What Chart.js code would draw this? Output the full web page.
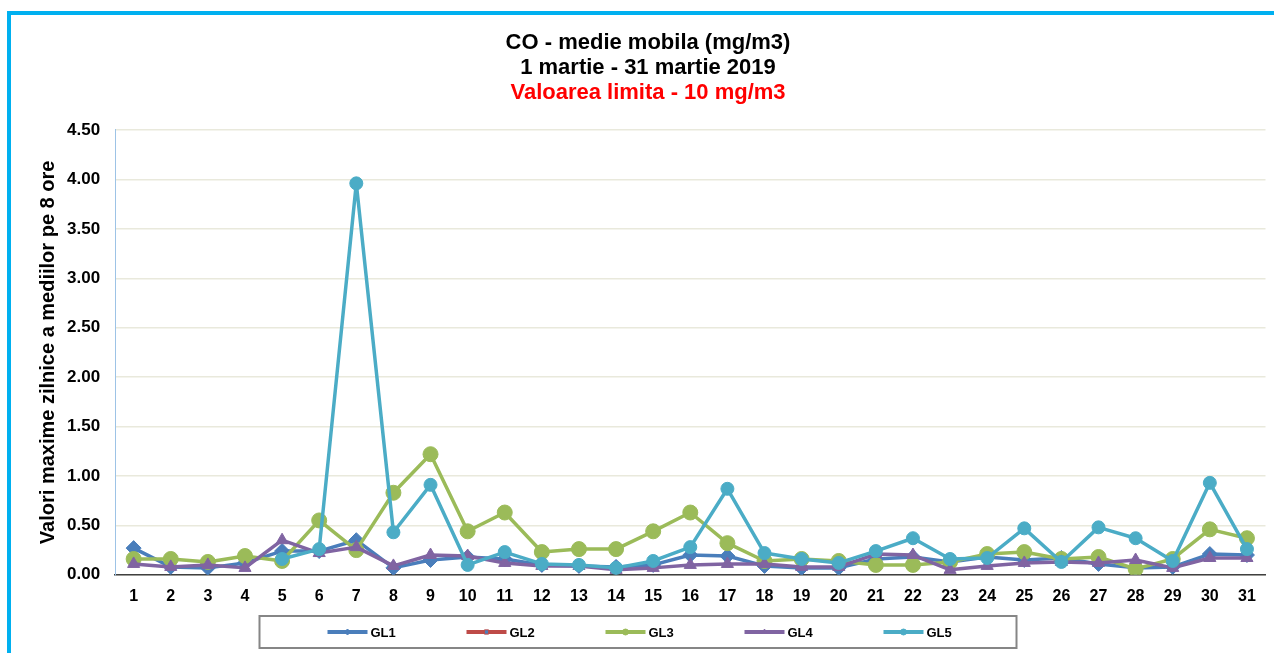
<!DOCTYPE html>
<html>
<head>
<meta charset="utf-8">
<title>CO - medie mobila</title>
<script src="https://cdn.jsdelivr.net/npm/chart.js@4.4.1/dist/chart.umd.min.js"></script>
<style>
  html, body { margin: 0; padding: 0; background: #fff; }
  #wrap { position: relative; width: 1274px; height: 653px; overflow: hidden; }
  #frame { position: absolute; left: 7px; top: 11px; right: -20px; bottom: -20px;
           border-left: 4px solid #00b0f0; border-top: 4px solid #00b0f0; pointer-events: none; }
  canvas { position: absolute; left: 0; top: 0; }
</style>
</head>
<body>
<div id="wrap">
  <canvas id="chart" width="1274" height="653"></canvas>
  <div id="frame"></div>
</div>
<script>
const days = ['1','2','3','4','5','6','7','8','9','10','11','12','13','14','15','16',
              '17','18','19','20','21','22','23','24','25','26','27','28','29','30','31'];

const gl1 = [0.27,0.08,0.07,0.12,0.24,0.24,0.35,0.07,0.15,0.18,0.16,0.10,0.09,0.08,0.10,0.20,
             0.19,0.09,0.07,0.07,0.16,0.18,0.13,0.18,0.15,0.17,0.11,0.07,0.08,0.21,0.20];
const gl2 = [null,null,null,null,null,null,null,null,null,null,null,null,null,null,null,null,
             null,null,null,null,null,null,null,null,null,null,null,null,null,null,null];
const gl3 = [0.16,0.16,0.13,0.19,0.14,0.55,0.25,0.83,1.22,0.44,0.63,0.23,0.26,0.26,0.44,0.63,
             0.32,0.14,0.16,0.14,0.10,0.10,0.13,0.21,0.23,0.16,0.18,0.06,0.16,0.46,0.37];
const gl4 = [0.11,0.08,0.10,0.07,0.35,0.22,0.28,0.09,0.20,0.19,0.12,0.09,0.09,0.05,0.07,0.10,
             0.11,0.11,0.08,0.08,0.21,0.20,0.05,0.09,0.12,0.13,0.12,0.15,0.07,0.17,0.17];
const gl5 = [null,null,null,null,0.16,0.26,3.96,0.43,0.91,0.10,0.23,0.11,0.10,0.07,0.14,0.28,
             0.87,0.22,0.16,0.12,0.24,0.37,0.16,0.17,0.47,0.13,0.48,0.37,0.14,0.93,0.26];

const yTicks = ['0.00','0.50','1.00','1.50','2.00','2.50','3.00','3.50','4.00','4.50'];

const FONT = '"Liberation Sans", Arial, sans-serif';

function serie(label, data, color, style, radius, order) {
    return {
        label: label,
        data: data,
        borderColor: color,
        backgroundColor: color,
        pointBackgroundColor: color,
        pointBorderColor: color,
        pointStyle: style,
        pointRadius: radius,
        pointBorderWidth: 1,
        borderWidth: 3.5,
        borderJoinStyle: 'round',
        tension: 0,
        order: order
    };
}

// legenda din Excel: linie cu marker mic, intr-un chenar gri
const legendBox = {
    id: 'legendBox',
    afterDraw(chart) {
        const ctx = chart.ctx;
        const w = 757, h = 32;
        const x0 = Math.round((chart.width - w) / 2) + 0.5;
        const y0 = chart.height - 37;
        ctx.save();
        ctx.strokeStyle = '#868686';
        ctx.lineWidth = 2;
        ctx.strokeRect(x0, y0, w, h);
        ctx.font = 'bold 13px ' + FONT;
        ctx.textBaseline = 'middle';
        chart.data.datasets.forEach((ds, i) => {
            const x = x0 + 68 + i * 139;
            const y = y0 + h / 2;
            ctx.strokeStyle = ds.borderColor;
            ctx.lineWidth = 4;
            ctx.beginPath();
            ctx.moveTo(x, y);
            ctx.lineTo(x + 40, y);
            ctx.stroke();
            ctx.fillStyle = ds.legendMarker || ds.borderColor;
            ctx.strokeStyle = ds.borderColor;
            ctx.lineWidth = 1;
            Chart.helpers.drawPoint(ctx, { pointStyle: ds.pointStyle, radius: 3, rotation: 0, borderWidth: 1 }, x + 20, y);
            ctx.fillStyle = '#000';
            ctx.fillText(ds.label, x + 43, y + 1);
        });
        ctx.restore();
    }
};

const datasets = [
    serie('GL1', gl1, '#4a7ebb', 'rectRot', 7.5, 5),
    serie('GL2', gl2, '#be4b48', 'rect', 5, 4),
    serie('GL3', gl3, '#9bbb59', 'circle', 7.5, 3),
    serie('GL4', gl4, '#8064a2', 'triangle', 7, 2),
    serie('GL5', gl5, '#4bacc6', 'circle', 6.5, 1)
];
datasets[1].legendMarker = '#4a7ebb';

const config = {
    type: 'line',
    data: { labels: days, datasets: datasets },
    options: {
        responsive: false,
        animation: false,
        layout: { padding: { top: 30, left: 23, right: 1, bottom: 35 } },
        plugins: {
            legend: { display: false },
            tooltip: { enabled: false },
            title: {
                display: true,
                text: ['CO - medie mobila (mg/m3)', '1 martie - 31 martie 2019'],
                color: '#000',
                font: { family: FONT, size: 22, weight: 'bold', lineHeight: 1.136 },
                padding: { top: 0, bottom: 0 }
            },
            subtitle: {
                display: true,
                text: 'Valoarea limita - 10 mg/m3',
                color: '#ff0000',
                font: { family: FONT, size: 22, weight: 'bold', lineHeight: 1.136 },
                padding: { top: 0, bottom: 25 }
            }
        },
        scales: {
            x: {
                offset: true,
                grid: { display: false, drawTicks: false },
                border: { color: '#404040', width: 1.5 },
                ticks: { color: '#000', padding: 12, maxRotation: 0, autoSkip: false,
                         font: { family: FONT, size: 16, weight: 'bold' } }
            },
            y: {
                min: 0,
                max: 4.5,
                grid: { color: '#e9e9dc', lineWidth: 1.5, drawTicks: false },
                border: { color: '#9dc3e6', width: 1 },
                ticks: {
                    stepSize: 0.5,
                    color: '#000',
                    padding: 15,
                    font: { family: FONT, size: 17, weight: 'bold' },
                    callback: (v, i) => yTicks[i]
                },
                title: {
                    display: true,
                    text: 'Valori maxime zilnice a mediilor pe 8 ore',
                    color: '#000',
                    font: { family: FONT, size: 20, weight: 'bold', lineHeight: 1 },
                    padding: { top: 15, bottom: -6 }
                }
            }
        }
    },
    plugins: [legendBox]
};

new Chart(document.getElementById('chart'), config);
</script>
</body>
</html>
